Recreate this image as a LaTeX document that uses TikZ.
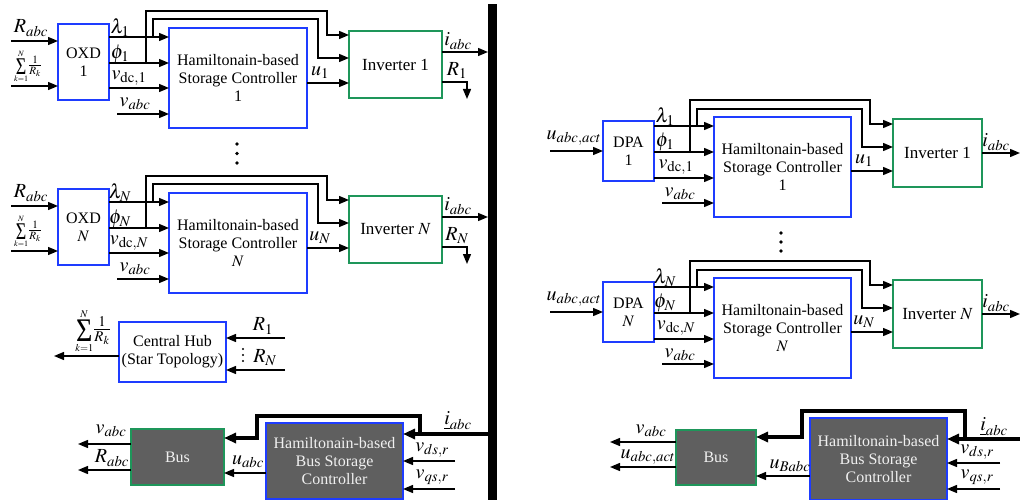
\documentclass[tikz,border=0pt]{standalone}
\usepackage{mathptmx}
\usepackage{graphicx}
\usepackage{fontspec}
\setmainfont{Liberation Serif}
\usetikzlibrary{arrows.meta}
\definecolor{boxblue}{RGB}{30,60,255}
\definecolor{boxgreen}{RGB}{30,150,90}
\definecolor{darkfill}{RGB}{95,95,95}
\definecolor{lighttext}{RGB}{240,240,240}
% #1 size of limits' math, #2 size of the Sigma glyph, #3 size of the fraction, #4 x-scale of Sigma
\newcommand\sumexpr[4]{{\fontsize{#1}{#1}\selectfont$\mathop{\vcenter{\hbox{\scalebox{#4}[1]{\fontsize{#2}{#2}\selectfont Σ}}}}\limits_{k=1}^{N}$}{\fontsize{#3}{#3}\selectfont$\frac{1}{R_k}$}}

\newcommand\LUnit[4]{%
\begin{scope}[yshift=-#4pt]
\node[bbox, minimum width=51, minimum height=76] (oxd#1) at (83.5,62) {OXD\\#2};
\node[bbox, minimum width=138, minimum height=100] (ham#1) at (238,78) {Hamiltonain-based\\Storage Controller\\#2};
\node[gbox, minimum width=93, minimum height=67] (inv#1) at (395.5,64.5) {Inverter #2};
\coordinate (ra#1) at (11,41);
\coordinate (rs#1) at (11,86);
\coordinate (va#1) at (117,114);
\coordinate (ja#1) at (146,63);
\coordinate (jb#1) at (153,37);
\coordinate (ro#1) at (467,99);
\draw[arr] (ra#1) -- (ra#1 -| oxd#1.west);
\draw[arr] (rs#1) -- (rs#1 -| oxd#1.west);
\draw[arr] (oxd#1.east |- 0,37) -- (ham#1.west |- 0,37);
\draw[arr] (oxd#1.east |- 0,63) -- (ham#1.west |- 0,63);
\draw[arr] (oxd#1.east |- 0,88) -- (ham#1.west |- 0,88);
\draw[arr] (va#1) -- (va#1 -| ham#1.west);
\draw[arr] (ja#1) |- (327,11) |- (inv#1.west |- 0,35);
\draw[arr] (jb#1) |- (318,19) |- (inv#1.west |- 0,58);
\draw[arr] (ham#1.east |- 0,83) -- (inv#1.west |- 0,83);
\draw[arr] (inv#1.east |- 0,52) -- (bar.west |- 0,52);
\draw[arr] (inv#1.east |- 0,82) -| (ro#1);
\node[lab] at (31,28) {$R_{abc}$};
\node[sumlab] at (28,66.5) {\sumexpr{11}{24}{15}{0.75}};
\node[lab] at (120,28) {$\lambda_{#3}$};
\node[lab] at (120,54) {$\phi_{#3}$};
\node[lab] at (129,78) {$v_{\mathrm{dc},#3}$};
\node[lab] at (135,104) {$v_{abc}$};
\node[lab] at (320,73) {$u_{#3}$};
\node[lab] at (458,41) {$i_{abc}$};
\node[lab] at (457,71) {$R_{#3}$};
\end{scope}}

\newcommand\RUnit[4]{%
\begin{scope}[yshift=-#4pt]
\node[bbox, minimum width=51, minimum height=60] (dpa#1) at (628.5,151) {DPA\\#2};
\node[bbox, minimum width=137, minimum height=100] (hamr#1) at (782.5,167) {Hamiltonain-based\\Storage Controller\\#2};
\node[gbox, minimum width=89, minimum height=68] (invr#1) at (937.5,153) {Inverter #2};
\coordinate (ua#1) at (550,151);
\coordinate (vr#1) at (662,203);
\coordinate (ka#1) at (690,152);
\coordinate (kb#1) at (697,126);
\coordinate (io#1) at (1020,153);
\draw[arr] (ua#1) -- (ua#1 -| dpa#1.west);
\draw[arr] (dpa#1.east |- 0,126) -- (hamr#1.west |- 0,126);
\draw[arr] (dpa#1.east |- 0,152) -- (hamr#1.west |- 0,152);
\draw[arr] (dpa#1.east |- 0,178) -- (hamr#1.west |- 0,178);
\draw[arr] (vr#1) -- (vr#1 -| hamr#1.west);
\draw[arr] (ka#1) |- (870,100) |- (invr#1.west |- 0,124);
\draw[arr] (kb#1) |- (862,109) |- (invr#1.west |- 0,147);
\draw[arr] (hamr#1.east |- 0,171) -- (invr#1.west |- 0,171);
\draw[arr] (invr#1.east |- io#1) -- (io#1);
\node[lab] at (574,138) {$u_{abc,act}$};
\node[lab] at (665,117) {$\lambda_{#3}$};
\node[lab] at (665,142) {$\phi_{#3}$};
\node[lab] at (676,167) {$v_{\mathrm{dc},#3}$};
\node[lab] at (680,194) {$v_{abc}$};
\node[lab] at (864,161) {$u_{#3}$};
\node[lab] at (996,142) {$i_{abc}$};
\end{scope}}

\begin{document}
\begin{tikzpicture}[x=1pt,y=-1pt,
  every node/.style={font=\fontsize{16}{18}\selectfont},
  bbox/.style={draw=boxblue, line width=1.4pt, fill=white, align=center, inner sep=0pt, outer sep=0pt},
  gbox/.style={draw=boxgreen, line width=1.4pt, fill=white, align=center, inner sep=0pt, outer sep=0pt, font=\fontsize{17}{19}\selectfont},
  dbox/.style={draw=#1, line width=1.4pt, fill=darkfill, text=lighttext, align=center, inner sep=0pt, outer sep=0pt},
  arr/.style={line width=1.4pt, -{Triangle[length=10pt,width=8pt]}},
  barr/.style={line width=4pt, miter limit=10, -{Triangle[length=12pt,width=10pt]}},
  lab/.style={font=\fontsize{20}{22}\selectfont, inner sep=0pt},
  sumlab/.style={inner sep=0pt},
  dot/.style={fill=black},
]
\useasboundingbox (0,0) rectangle (1020,500);
\node[fill=black, inner sep=0pt, outer sep=0pt, minimum width=9, minimum height=496] (bar) at (492.5,252) {};

\LUnit{a}{1}{1}{0}
\LUnit{b}{$N$}{N}{165}
\fill[dot] (237,144) circle (1.8pt) (237,153.5) circle (1.8pt) (237,163) circle (1.8pt);

% central hub
\node[bbox, minimum width=107, minimum height=60] (hub) at (172.5,352) {Central Hub\\(Star Topology)};
\coordinate (ho) at (54,356);
\coordinate (h1) at (285,338);
\coordinate (h2) at (285,370);
\draw[arr] (hub.west |- ho) -- (ho);
\draw[arr] (h1) -- (h1 -| hub.east);
\draw[arr] (h2) -- (h2 -| hub.east);
\node[sumlab] at (93,331) {\sumexpr{14}{33}{20}{0.85}};
\node[lab] at (263,326) {$R_1$};
\node[lab] at (265,358) {$R_N$};
\fill[dot] (243,349) circle (1.1pt) (243,355) circle (1.1pt) (243,361) circle (1.1pt);

% bottom left
\node[dbox=boxgreen, minimum width=93, minimum height=56] (bus) at (177.5,457) {Bus};
\node[dbox=boxblue, minimum width=137, minimum height=76] (hbus) at (334.5,461) {Hamiltonain-based\\Bus Storage\\Controller};
\coordinate (jl) at (420,434);
\coordinate (vdl) at (455,461);
\coordinate (vql) at (455,489);
\coordinate (bo1) at (78,444);
\coordinate (bo2) at (78,470);
\draw[barr] (bar.west |- jl) -- (jl -| hbus.east);
\draw[barr] (jl) |- (257,416) |- (bus.east |- 0,438);
\draw[arr] (vdl) -- (vdl -| hbus.east);
\draw[arr] (vql) -- (vql -| hbus.east);
\draw[arr] (hbus.west |- 0,473) -- (bus.east |- 0,473);
\draw[arr] (bus.west |- bo1) -- (bo1);
\draw[arr] (bus.west |- bo2) -- (bo2);
\node[lab] at (458,421) {$\underline{i}_{abc}$};
\node[lab] at (432,450) {$v_{ds,r}$};
\node[lab] at (432,477) {$v_{qs,r}$};
\node[lab] at (248,462) {$u_{abc}$};
\node[lab] at (111,431) {$v_{abc}$};
\node[lab] at (112,458) {$R_{abc}$};

% right panel
\RUnit{a}{1}{1}{0}
\RUnit{b}{$N$}{N}{161}
\fill[dot] (781,233) circle (1.8pt) (781,242) circle (1.8pt) (781,251) circle (1.8pt);

\node[dbox=boxgreen, minimum width=80, minimum height=55] (busr) at (716,457.5) {Bus};
\node[dbox=boxblue, minimum width=137, minimum height=82] (hbusr) at (878.5,459) {Hamiltonain-based\\Bus Storage\\Controller};
\coordinate (ir) at (1020,439);
\coordinate (jr) at (965,439);
\coordinate (vdr) at (1000,463);
\coordinate (vqr) at (1000,489);
\coordinate (bro1) at (610,442);
\coordinate (bro2) at (610,467);
\draw[barr] (ir) -- (ir -| hbusr.east);
\draw[barr] (jr) |- (802,411) |- (busr.east |- 0,437);
\draw[arr] (vdr) -- (vdr -| hbusr.east);
\draw[arr] (vqr) -- (vqr -| hbusr.east);
\draw[arr] (hbusr.west |- 0,476) -- (busr.east |- 0,476);
\draw[arr] (busr.west |- bro1) -- (bro1);
\draw[arr] (busr.west |- bro2) -- (bro2);
\node[lab] at (994,427) {$\underline{i}_{abc}$};
\node[lab] at (977,452) {$v_{ds,r}$};
\node[lab] at (977,477) {$v_{qs,r}$};
\node[lab] at (790,466) {$u_{Babc}$};
\node[lab] at (651,431) {$v_{abc}$};
\node[lab] at (648,457) {$u_{abc,act}$};
\end{tikzpicture}
\end{document}
